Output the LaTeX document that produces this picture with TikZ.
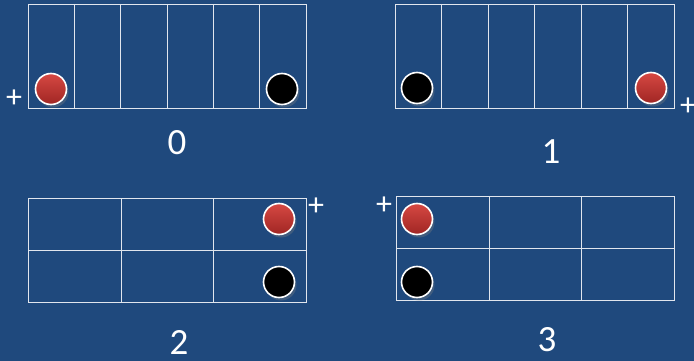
\documentclass[tikz,border=0pt]{standalone}
\usepackage{fontspec}
\setmainfont{Carlito}
\usetikzlibrary{shadows}
\definecolor{bg}{RGB}{31,73,125}
\definecolor{gridc}{RGB}{225,230,238}
\definecolor{redtop}{RGB}{214,72,66}
\definecolor{redbot}{RGB}{160,38,36}
\tikzset{
  gridline/.style={draw=gridc, line width=0.9pt},
  redball/.style={circle, minimum size=31pt, inner sep=0pt, draw=white, line width=1.6pt,
    top color=redtop, bottom color=redbot, drop shadow={shadow xshift=2pt, shadow yshift=-3pt, opacity=0.35}},
  blackball/.style={circle, minimum size=31pt, inner sep=0pt, draw=white, line width=1.6pt,
    fill=black, drop shadow={shadow xshift=2pt, shadow yshift=-3pt, opacity=0.35}},
  lbl/.style={text=white, font=\fontsize{37}{40}\selectfont, inner sep=0pt},
  plus/.style={text=white, font=\fontsize{32}{34}\selectfont, inner sep=0pt},
}
\begin{document}
\begin{tikzpicture}[x=1pt,y=-1pt]
\fill[bg] (0,0) rectangle (694,361);
\useasboundingbox (0,0) rectangle (694,361);
% grid 0
\draw[gridline] (28,4) rectangle (306,108);
\foreach \i in {1,...,5} \draw[gridline] ({28+\i*46.33},4) -- ({28+\i*46.33},108);
\node[redball] (r0) at (51,89) {};
\node[blackball] (b0) at (282,89) {};
\node[plus] (p0) at (14,99) {+};
\node[lbl] (l0) at (177,143) {0};
% grid 1
\draw[gridline] (395,4) rectangle (674,108);
\foreach \i in {1,...,5} \draw[gridline] ({395+\i*46.5},4) -- ({395+\i*46.5},108);
\node[blackball] (b1) at (417,88) {};
\node[redball] (r1) at (651,88) {};
\node[plus] (p1) at (688,107) {+};
\node[lbl] (l1) at (551,152) {1};
% grid 2
\draw[gridline] (28,198) rectangle (306,302);
\draw[gridline] (28,250) -- (306,250);
\draw[gridline] (121,198) -- (121,302);
\draw[gridline] (213.5,198) -- (213.5,302);
\node[redball] (r2) at (279,219) {};
\node[blackball] (b2) at (279,282) {};
\node[plus] (p2) at (316,207) {+};
\node[lbl] (l2) at (179,342) {2};
% grid 3
\draw[gridline] (396,196) rectangle (674,300);
\draw[gridline] (396,248) -- (674,248);
\draw[gridline] (489,196) -- (489,300);
\draw[gridline] (581,196) -- (581,300);
\node[redball] (r3) at (417,219) {};
\node[blackball] (b3) at (417,282) {};
\node[plus] (p3) at (384,206) {+};
\node[lbl] (l3) at (547,340) {3};
\end{tikzpicture}
\end{document}
